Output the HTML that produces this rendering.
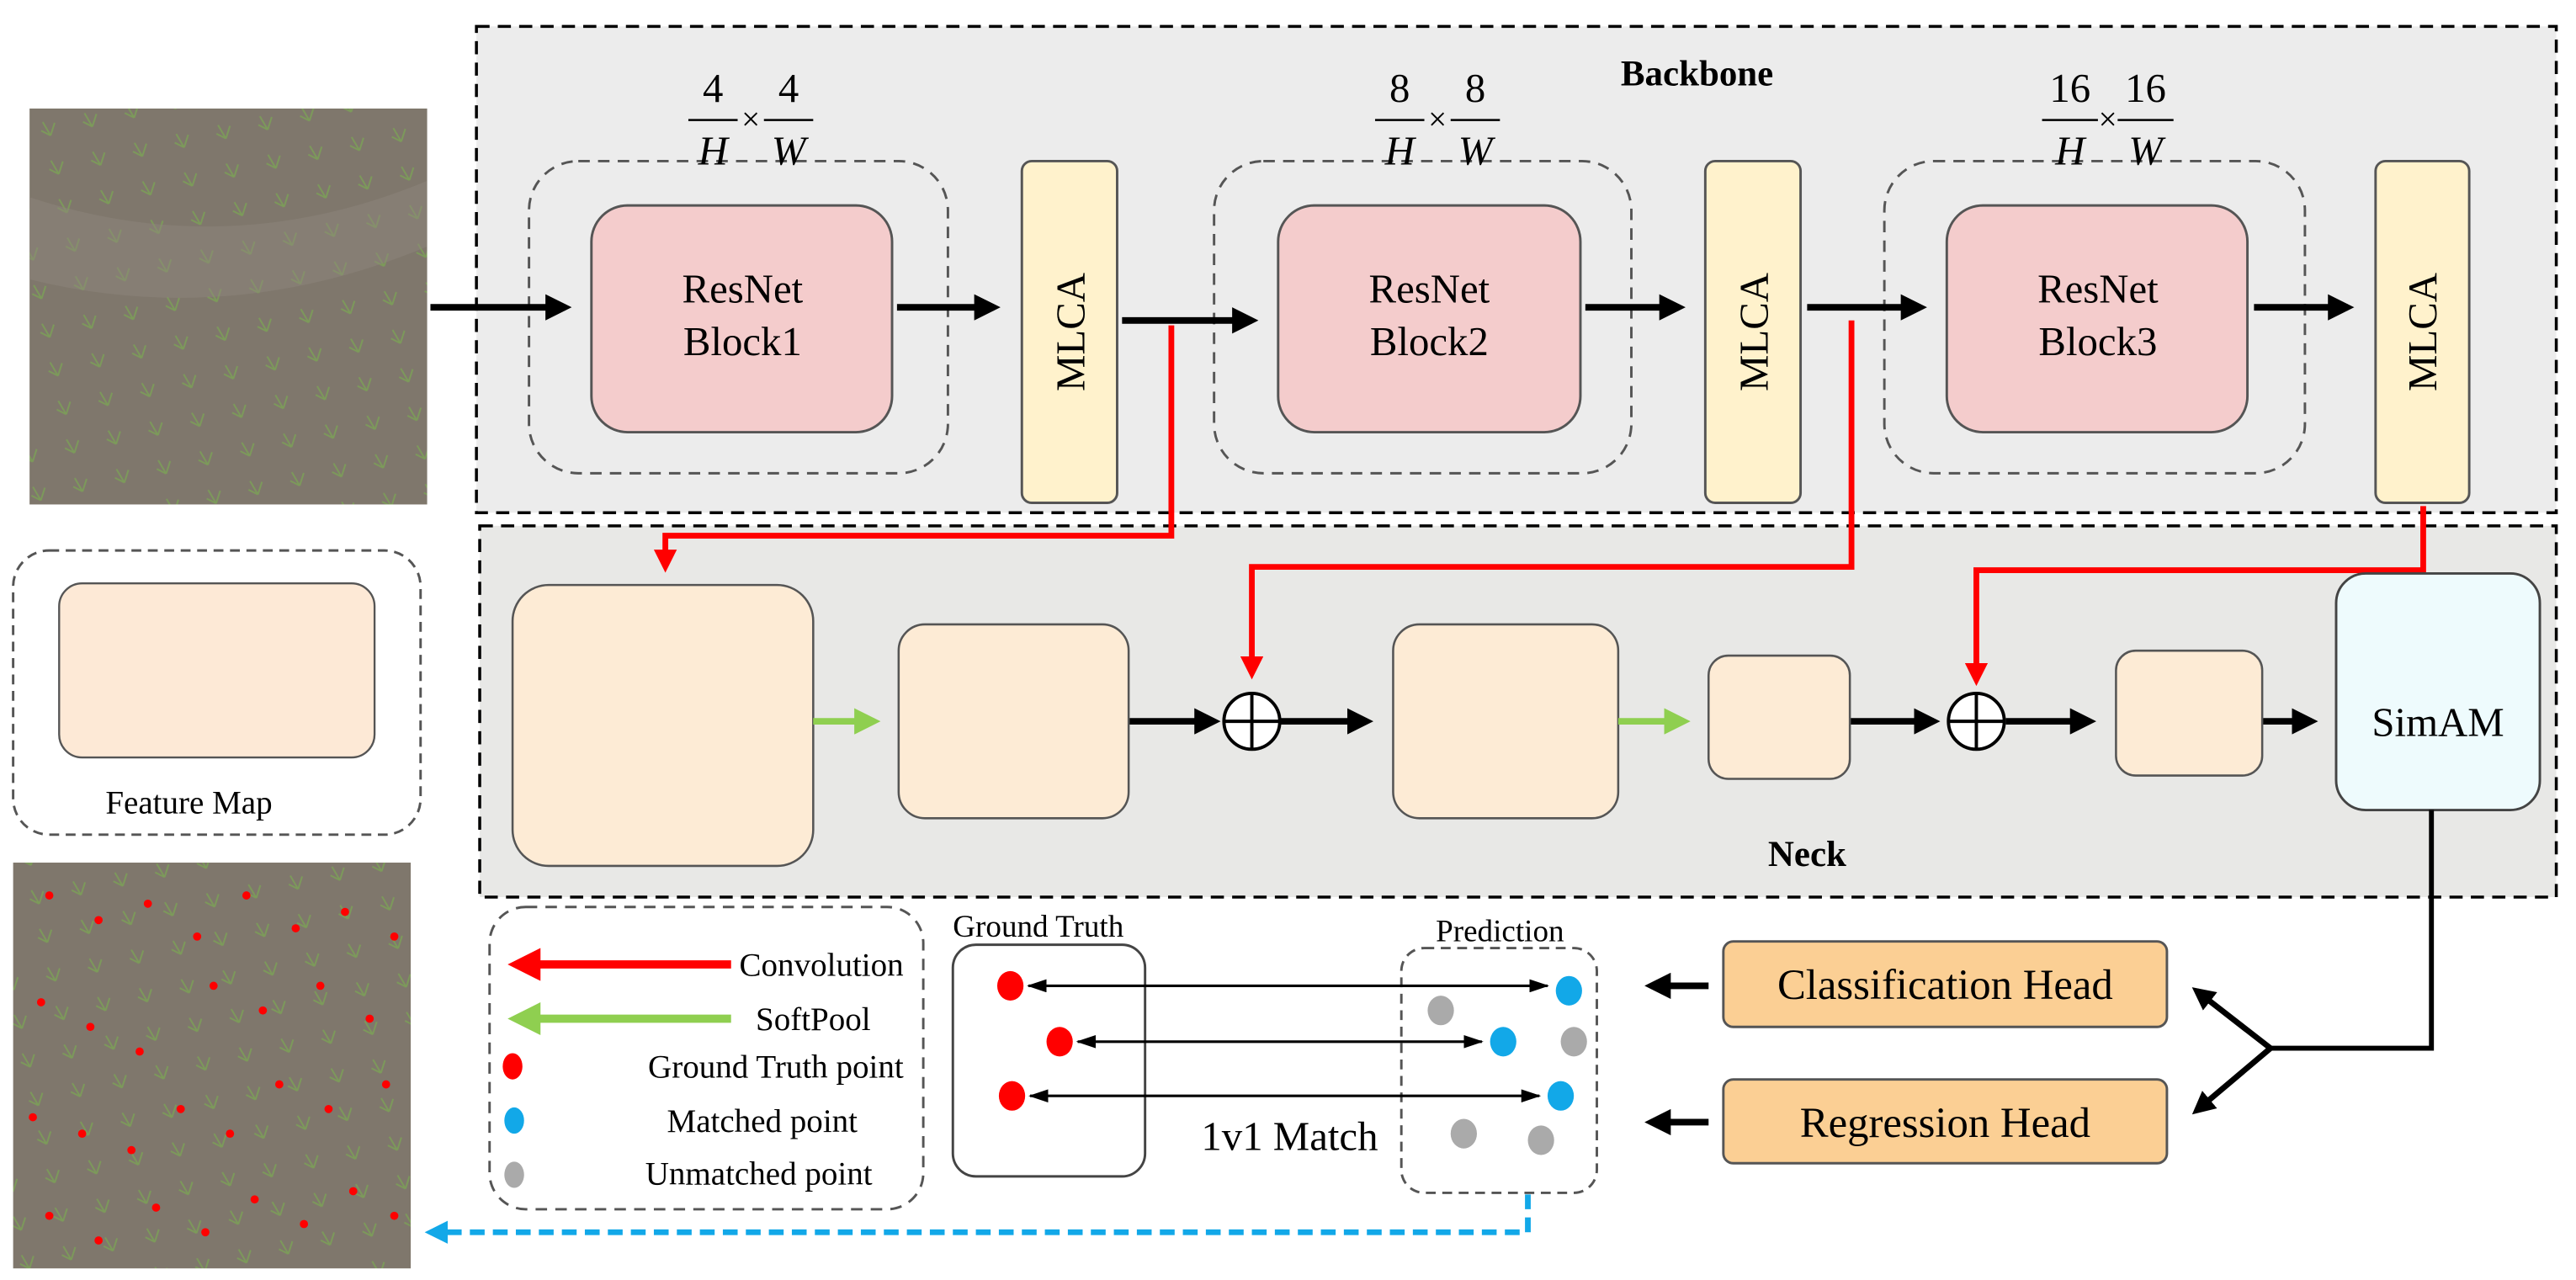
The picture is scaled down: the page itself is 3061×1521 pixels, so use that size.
<!DOCTYPE html>
<html><head><meta charset="utf-8"><style>html,body{margin:0;padding:0;background:#fff}svg{display:block}svg text{font-family:"Liberation Serif","Times New Roman",serif !important}</style></head><body>
<svg width="3061" height="1521" viewBox="0 0 1568 779" xmlns="http://www.w3.org/2000/svg" font-family="Liberation Serif, serif">
<defs>
<marker id="ak" markerWidth="4" markerHeight="4" refX="3" refY="2" orient="auto" markerUnits="strokeWidth"><path d="M0,0 L4,2 L0,4z" fill="#000"/></marker>
<marker id="ar" markerWidth="4" markerHeight="4" refX="3" refY="2" orient="auto" markerUnits="strokeWidth"><path d="M0,0 L4,2 L0,4z" fill="#f00"/></marker>
<marker id="ag" markerWidth="4" markerHeight="4" refX="3" refY="2" orient="auto" markerUnits="strokeWidth"><path d="M0,0 L4,2 L0,4z" fill="#8fcf50"/></marker>
<marker id="ab" markerWidth="4" markerHeight="4" refX="3" refY="2" orient="auto" markerUnits="strokeWidth"><path d="M0,0 L4,2 L0,4z" fill="#12a8e8"/></marker>
<marker id="ad" markerWidth="12" markerHeight="8" refX="11" refY="4" orient="auto-start-reverse" markerUnits="userSpaceOnUse"><path d="M0,0 L12,4 L0,8z" fill="#000"/></marker>
<pattern id="pl" width="26" height="24" patternUnits="userSpaceOnUse" patternTransform="rotate(-12)"><rect width="26" height="24" fill="#7f776c"/><path d="M10,6 l3,9 M13,15 l4,-7 M13,15 l-5,-4" stroke="#7c9a5a" stroke-width="1"/></pattern>
</defs>
<rect x="18" y="66" width="242" height="241" fill="url(#pl)"/>
<path d="M18,120 Q140,160 260,110 L260,150 Q140,200 18,170z" fill="#8e867b" opacity=".5"/>
<rect x="8" y="525" width="242" height="247" fill="url(#pl)"/>
<g fill="#f00">
<circle cx="30" cy="545" r="2.5"/><circle cx="60" cy="560" r="2.5"/><circle cx="90" cy="550" r="2.5"/><circle cx="120" cy="570" r="2.5"/><circle cx="150" cy="545" r="2.5"/><circle cx="180" cy="565" r="2.5"/><circle cx="210" cy="555" r="2.5"/><circle cx="240" cy="570" r="2.5"/>
<circle cx="25" cy="610" r="2.5"/><circle cx="55" cy="625" r="2.5"/><circle cx="85" cy="640" r="2.5"/><circle cx="130" cy="600" r="2.5"/><circle cx="160" cy="615" r="2.5"/><circle cx="195" cy="600" r="2.5"/><circle cx="225" cy="620" r="2.5"/>
<circle cx="20" cy="680" r="2.5"/><circle cx="50" cy="690" r="2.5"/><circle cx="80" cy="700" r="2.5"/><circle cx="110" cy="675" r="2.5"/><circle cx="140" cy="690" r="2.5"/><circle cx="170" cy="660" r="2.5"/><circle cx="200" cy="675" r="2.5"/><circle cx="235" cy="660" r="2.5"/>
<circle cx="30" cy="740" r="2.5"/><circle cx="60" cy="755" r="2.5"/><circle cx="95" cy="735" r="2.5"/><circle cx="125" cy="750" r="2.5"/><circle cx="155" cy="730" r="2.5"/><circle cx="185" cy="745" r="2.5"/><circle cx="215" cy="725" r="2.5"/><circle cx="240" cy="740" r="2.5"/>
</g>
<rect x="8" y="335" width="248" height="173" rx="22" fill="#fff" stroke="#555" stroke-width="1.5" stroke-dasharray="6,4"/>
<rect x="36" y="355" width="192" height="106" rx="14" fill="#fde9d6" stroke="#555" stroke-width="1.2"/>
<text x="115" y="495" font-size="20" text-anchor="middle">Feature Map</text>
<rect x="290" y="16" width="1266" height="296" fill="#ececec" stroke="#000" stroke-width="1.8" stroke-dasharray="8,5"/>
<text x="1033" y="52" font-size="22" font-weight="bold" text-anchor="middle">Backbone</text>
<rect x="292" y="320" width="1264" height="226" fill="#e8e8e6" stroke="#000" stroke-width="1.8" stroke-dasharray="8,5"/>
<text x="1100" y="527" font-size="22" font-weight="bold" text-anchor="middle">Neck</text>
<g fill="none" stroke="#555" stroke-width="1.5" stroke-dasharray="7,5">
<rect x="322" y="98" width="255" height="190" rx="30"/><rect x="739" y="98" width="254" height="190" rx="30"/><rect x="1147" y="98" width="256" height="190" rx="30"/></g>
<g fill="#f4cccc" stroke="#555" stroke-width="1.5">
<rect x="360" y="125" width="183" height="138" rx="22"/><rect x="778" y="125" width="184" height="138" rx="22"/><rect x="1185" y="125" width="183" height="138" rx="22"/></g>
<g font-size="25" text-anchor="middle">
<text x="452" y="184">ResNet</text><text x="452" y="216">Block1</text>
<text x="870" y="184">ResNet</text><text x="870" y="216">Block2</text>
<text x="1277" y="184">ResNet</text><text x="1277" y="216">Block3</text></g>
<g fill="#fff2cc" stroke="#555" stroke-width="1.5">
<rect x="622" y="98" width="58" height="208" rx="6"/><rect x="1038" y="98" width="58" height="208" rx="6"/><rect x="1446" y="98" width="57" height="208" rx="6"/></g>
<g font-size="25" text-anchor="middle">
<text transform="translate(660,202) rotate(-90)">MLCA</text><text transform="translate(1076,202) rotate(-90)">MLCA</text><text transform="translate(1483,202) rotate(-90)">MLCA</text></g>
<g font-size="25" text-anchor="middle">
<text x="434" y="62">4</text><text x="480" y="62">4</text><text x="434" y="100" font-style="italic">H</text><text x="480" y="100" font-style="italic">W</text><text x="457" y="79" font-size="20">×</text>
<text x="852" y="62">8</text><text x="898" y="62">8</text><text x="852" y="100" font-style="italic">H</text><text x="898" y="100" font-style="italic">W</text><text x="875" y="79" font-size="20">×</text>
<text x="1260" y="62">16</text><text x="1306" y="62">16</text><text x="1260" y="100" font-style="italic">H</text><text x="1306" y="100" font-style="italic">W</text><text x="1283" y="79" font-size="20">×</text></g>
<g stroke="#000" stroke-width="1.3">
<path d="M419,73h30M465,73h30M837,73h30M883,73h30M1243,73h34M1289,73h34"/></g>
<g stroke="#000" stroke-width="4" marker-end="url(#ak)">
<path d="M262,187H344"/><path d="M546,187H605"/><path d="M683,195H762"/><path d="M965,187H1022"/><path d="M1100,187H1169"/><path d="M1372,187H1429"/>
<path d="M687,439H739"/><path d="M779,439H832"/><path d="M1126,439H1177"/><path d="M1221,439H1272"/><path d="M1377,439H1407"/>
<path d="M1040,600H1005"/><path d="M1040,683H1005"/></g>
<g stroke="#f00" stroke-width="3.5" fill="none" marker-end="url(#ar)">
<path d="M713,198V326H405V345"/><path d="M1127,195V345H762V410"/><path d="M1475,308V347H1203V414"/></g>
<g fill="#fdebd5" stroke="#555" stroke-width="1.3">
<rect x="312" y="356" width="183" height="171" rx="22"/><rect x="547" y="380" width="140" height="118" rx="16"/><rect x="848" y="380" width="137" height="118" rx="16"/><rect x="1040" y="399" width="86" height="75" rx="12"/><rect x="1288" y="396" width="89" height="76" rx="12"/></g>
<rect x="1422" y="349" width="124" height="144" rx="18" fill="#eefbfd" stroke="#444" stroke-width="1.5"/>
<text x="1484" y="448" font-size="25" text-anchor="middle">SimAM</text>
<g stroke="#8fcf50" stroke-width="4" marker-end="url(#ag)"><path d="M495,439H532"/><path d="M985,439H1025"/></g>
<g fill="#fff" stroke="#000" stroke-width="2"><circle cx="762" cy="439" r="17"/><circle cx="1203" cy="439" r="17"/></g>
<path d="M745,439h34M762,422v34M1186,439h34M1203,422v34" stroke="#000" stroke-width="2"/>
<path d="M1480,493V638H1380" stroke="#000" stroke-width="3" fill="none"/>
<g stroke="#000" stroke-width="3.5" marker-end="url(#ak)"><path d="M1382,638L1337,603"/><path d="M1382,638L1337,676"/></g>
<g fill="#fbcf94" stroke="#555" stroke-width="1.5"><rect x="1049" y="573" width="270" height="52" rx="6"/><rect x="1049" y="657" width="270" height="51" rx="6"/></g>
<text x="1184" y="608" font-size="26" text-anchor="middle">Classification Head</text>
<text x="1184" y="692" font-size="26" text-anchor="middle">Regression Head</text>
<rect x="298" y="552" width="264" height="184" rx="22" fill="#fff" stroke="#555" stroke-width="1.5" stroke-dasharray="7,5"/>
<path d="M445,587H314" stroke="#f00" stroke-width="5" marker-end="url(#ar)"/>
<path d="M445,620H314" stroke="#8fcf50" stroke-width="5" marker-end="url(#ag)"/>
<g font-size="20" text-anchor="end"><text x="550" y="594">Convolution</text><text x="530" y="627">SoftPool</text><text x="550" y="656">Ground Truth point</text><text x="522" y="689">Matched point</text><text x="531" y="721">Unmatched point</text></g>
<ellipse cx="312" cy="649" rx="6" ry="8" fill="#f00"/><ellipse cx="313" cy="682" rx="6" ry="8" fill="#12a8e8"/><ellipse cx="313" cy="715" rx="6" ry="8" fill="#aaa"/>
<text x="632" y="570" font-size="19" text-anchor="middle">Ground Truth</text>
<text x="913" y="573" font-size="19" text-anchor="middle">Prediction</text>
<rect x="580" y="575" width="117" height="141" rx="14" fill="#fff" stroke="#444" stroke-width="1.5"/>
<rect x="853" y="577" width="119" height="149" rx="14" fill="none" stroke="#555" stroke-width="1.5" stroke-dasharray="6,4"/>
<g stroke="#000" stroke-width="1.6" marker-start="url(#ad)" marker-end="url(#ad)"><path d="M626,600H942"/><path d="M656,634H902"/><path d="M627,667H937"/></g>
<g fill="#f00"><ellipse cx="615" cy="600" rx="8" ry="9"/><ellipse cx="645" cy="634" rx="8" ry="9"/><ellipse cx="616" cy="667" rx="8" ry="9"/></g>
<g fill="#12a8e8"><ellipse cx="955" cy="603" rx="8" ry="9"/><ellipse cx="915" cy="634" rx="8" ry="9"/><ellipse cx="950" cy="667" rx="8" ry="9"/></g>
<g fill="#aaa"><ellipse cx="877" cy="615" rx="8" ry="9"/><ellipse cx="958" cy="634" rx="8" ry="9"/><ellipse cx="891" cy="690" rx="8" ry="9"/><ellipse cx="938" cy="694" rx="8" ry="9"/></g>
<text x="785" y="700" font-size="25" text-anchor="middle">1v1 Match</text>
<path d="M930,727V750H262" stroke="#12a8e8" stroke-width="3.5" fill="none" stroke-dasharray="9,5" marker-end="url(#ab)"/>
</svg>
</body></html>
